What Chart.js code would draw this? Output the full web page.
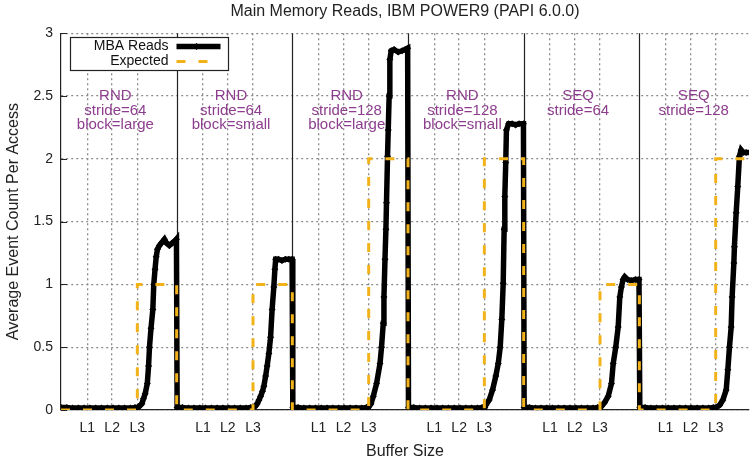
<!DOCTYPE html>
<html>
<head>
<meta charset="utf-8">
<script src="https://cdn.jsdelivr.net/npm/chart.js@4.4.1/dist/chart.umd.min.js"></script>
<style>
  html, body { margin: 0; padding: 0; background: #fff; }
</style>
</head>
<body>
<canvas id="memChart" width="753" height="462"></canvas>
<script>
// one panel per access pattern, x runs 0..1 inside each panel (log buffer size)
const panelLabels = [
  ["RND", "stride=64", "block=large"],
  ["RND", "stride=64", "block=small"],
  ["RND", "stride=128", "block=large"],
  ["RND", "stride=128", "block=small"],
  ["SEQ", "stride=64"],
  ["SEQ", "stride=128"],
];
const cacheLevels = ["L1", "L2", "L3"];
const cachePos = [0.227, 0.442, 0.66];
const expectedLevel = [1, 1, 2, 2, 1, 2];

// small buffers: almost nothing reaches main memory
const flatX = [0.004, 0.05, 0.1, 0.15, 0.2, 0.25, 0.3, 0.35, 0.4, 0.45, 0.5, 0.55, 0.6, 0.64];
const flatY = [0.02, 0.02, 0.015, 0.015, 0.015, 0.015, 0.015, 0.015, 0.015, 0.015, 0.015, 0.015, 0.015, 0.02];

// past L3: measured reads per access
const readsX = [
  [0.662, 0.679, 0.699, 0.713, 0.728, 0.746, 0.757, 0.765, 0.778, 0.794, 0.802, 0.813, 0.823, 0.834, 0.851, 0.868, 0.894, 0.911, 0.937, 0.963, 0.989, 0.998],
  [0.662, 0.680, 0.696, 0.712, 0.726, 0.742, 0.754, 0.769, 0.782, 0.797, 0.812, 0.825, 0.840, 0.849, 0.856, 0.88, 0.91, 0.94, 0.97, 0.998],
  [0.657, 0.68, 0.700, 0.728, 0.758, 0.771, 0.786, 0.792, 0.801, 0.809, 0.814, 0.823, 0.829, 0.837, 0.843, 0.855, 0.880, 0.915, 0.949, 0.975, 0.997],
  [0.664, 0.673, 0.702, 0.731, 0.759, 0.780, 0.797, 0.811, 0.823, 0.831, 0.837, 0.845, 0.851, 0.87, 0.90, 0.93, 0.96, 0.998],
  [0.66, 0.673, 0.70, 0.731, 0.759, 0.774, 0.796, 0.817, 0.831, 0.845, 0.860, 0.874, 0.897, 0.931, 0.966, 0.997],
  [0.665, 0.695, 0.722, 0.751, 0.765, 0.779, 0.794, 0.802, 0.817, 0.822, 0.837, 0.851, 0.865, 0.880, 0.897, 0.923, 0.957, 0.99],
];
const readsY = [
  [0.02, 0.03, 0.05, 0.09, 0.13, 0.21, 0.35, 0.5, 0.65, 0.8, 1.0, 1.12, 1.22, 1.28, 1.31, 1.33, 1.36, 1.33, 1.31, 1.33, 1.35, 1.36],
  [0.02, 0.03, 0.05, 0.08, 0.11, 0.15, 0.19, 0.27, 0.35, 0.45, 0.58, 0.8, 0.98, 1.12, 1.2, 1.2, 1.19, 1.2, 1.2, 1.2],
  [0.02, 0.05, 0.11, 0.21, 0.37, 0.5, 0.69, 0.9, 1.2, 1.44, 1.65, 2.02, 2.23, 2.5, 2.79, 2.86, 2.87, 2.85, 2.86, 2.87, 2.88],
  [0.02, 0.04, 0.08, 0.16, 0.27, 0.37, 0.5, 0.72, 1.01, 1.44, 1.7, 1.97, 2.23, 2.28, 2.28, 2.27, 2.28, 2.28],
  [0.02, 0.03, 0.06, 0.11, 0.21, 0.37, 0.5, 0.66, 0.9, 0.98, 1.04, 1.06, 1.04, 1.03, 1.04, 1.04],
  [0.02, 0.04, 0.08, 0.16, 0.32, 0.5, 0.66, 0.9, 1.17, 1.3, 1.57, 1.78, 2.02, 2.07, 2.05, 2.05, 2.05, 2.05],
];

const FONT = "'Liberation Sans', Arial, sans-serif";
const ORANGE = "#f2b21a";
const PURPLE = "#8d3d8d";
const GRID = "#8a8a8a";
const xMax = 5.948; // the original figure is cut off inside the last panel

const readsData = [];
panelLabels.forEach((_, p) => {
  flatX.forEach((x, k) => readsData.push({ x: p + x, y: flatY[k] }));
  readsX[p].forEach((x, k) => readsData.push({ x: p + x, y: readsY[p][k] }));
});

const expectedData = [];
expectedLevel.forEach((lvl, p) => {
  const jump = p + cachePos[2];
  expectedData.push({ x: p, y: 0 }, { x: jump, y: 0 }, { x: jump, y: lvl }, { x: p + 1, y: lvl });
});

Chart.defaults.font.family = FONT;
Chart.defaults.color = "#222";

// solid lines between the panels
const panelLines = {
  id: "panelLines",
  beforeDatasetsDraw(chart) {
    const { ctx, chartArea, scales } = chart;
    ctx.save();
    ctx.strokeStyle = "#222";
    ctx.lineWidth = 1.2;
    for (let p = 1; p < panelLabels.length; p++) {
      const px = Math.round(scales.x.getPixelForValue(p)) + 0.5;
      ctx.beginPath();
      ctx.moveTo(px, chartArea.top);
      ctx.lineTo(px, chartArea.bottom);
      ctx.stroke();
    }
    // short inward tick marks on the left axis, gnuplot style
    ctx.lineWidth = 1;
    scales.y.ticks.forEach((t) => {
      const py = Math.round(scales.y.getPixelForValue(t.value)) + 0.5;
      ctx.beginPath();
      ctx.moveTo(chartArea.left, py);
      ctx.lineTo(chartArea.left + 6, py);
      ctx.stroke();
    });
    ctx.restore();
  },
};

// purple captions in every panel
const panelCaptions = {
  id: "panelCaptions",
  afterDatasetsDraw(chart) {
    const { ctx, scales } = chart;
    ctx.save();
    ctx.font = "15px " + FONT;
    ctx.fillStyle = PURPLE;
    ctx.textAlign = "center";
    ctx.textBaseline = "middle";
    const top = scales.y.getPixelForValue(2.5);
    panelLabels.forEach((lines, p) => {
      const cx = scales.x.getPixelForValue(p + 0.47);
      lines.forEach((t, k) => ctx.fillText(t, cx, top + k * 14.5));
    });
    ctx.restore();
  },
};

// gnuplot-like key: text on the left, sample on the right, in a box
const boxKey = {
  id: "boxKey",
  afterDatasetsDraw(chart) {
    const { ctx, chartArea } = chart;
    const x0 = Math.round(chartArea.left + 9) + 0.5;
    const y0 = Math.round(chartArea.top + 4) + 0.5;
    ctx.save();
    ctx.fillStyle = "#fff";
    ctx.fillRect(x0, y0, 158, 33);
    ctx.strokeStyle = "#222";
    ctx.lineWidth = 1.2;
    ctx.strokeRect(x0, y0, 158, 33);
    ctx.font = "14px " + FONT;
    ctx.textAlign = "right";
    ctx.textBaseline = "middle";
    chart.data.datasets.forEach((ds, i) => {
      const ry = y0 + 9 + i * 15;
      ctx.fillStyle = "#111";
      ctx.fillText(ds.label, x0 + 98, ry);
      ctx.beginPath();
      ctx.strokeStyle = ds.borderColor;
      ctx.lineWidth = ds.borderWidth;
      ctx.setLineDash(ds.borderDash || []);
      ctx.moveTo(x0 + 106, ry);
      ctx.lineTo(x0 + 150, ry);
      ctx.stroke();
      ctx.setLineDash([]);
      if (ds.pointRadius) {
        const mx = x0 + 126;
        const r = ds.pointRadius;
        ctx.fillStyle = ds.pointBackgroundColor;
        ctx.beginPath();
        ctx.moveTo(mx, ry - r);
        ctx.lineTo(mx + r, ry);
        ctx.lineTo(mx, ry + r);
        ctx.lineTo(mx - r, ry);
        ctx.closePath();
        ctx.fill();
      }
    });
    ctx.restore();
  },
};

new Chart(document.getElementById("memChart"), {
  type: "line",
  data: {
    datasets: [
      {
        label: "MBA Reads",
        data: readsData,
        borderColor: "#000",
        borderWidth: 5.5,
        pointStyle: "rectRot",
        pointRadius: 3.5,
        pointBackgroundColor: "#000",
        pointBorderWidth: 0,
        tension: 0,
        order: 1,
      },
      {
        label: "Expected",
        data: expectedData,
        borderColor: ORANGE,
        borderWidth: 3,
        borderDash: [9, 13],
        pointRadius: 0,
        tension: 0,
        order: 0,
      },
    ],
  },
  options: {
    responsive: false,
    animation: false,
    layout: { padding: { left: 4, right: 0, top: 0, bottom: 1 } },
    plugins: {
      legend: { display: false },
      tooltip: { enabled: false },
      title: {
        display: true,
        fullSize: false,
        text: "Main Memory Reads, IBM POWER9 (PAPI 6.0.0)",
        font: { size: 16, weight: "normal" },
        color: "#222",
        padding: { top: 2, bottom: 12 },
      },
    },
    scales: {
      x: {
        type: "linear",
        min: 0,
        max: xMax,
        afterBuildTicks: (axis) => {
          const ticks = [];
          panelLabels.forEach((_, p) => cachePos.forEach((c) => ticks.push({ value: p + c })));
          axis.ticks = ticks;
        },
        afterFit: (s) => { s.height = 51; },
        ticks: {
          autoSkip: false,
          maxRotation: 0,
          padding: 10,
          font: { size: 14 },
          callback: (v, i) => cacheLevels[i % cacheLevels.length],
        },
        grid: { color: GRID, lineWidth: 1.3, drawTicks: false },
        border: { color: "#222", width: 1.2, dash: [2, 3] },
        title: { display: true, text: "Buffer Size", font: { size: 16 }, padding: { top: 0, bottom: 0 } },
      },
      y: {
        min: 0,
        max: 3,
        afterFit: (s) => { s.width = 57; },
        ticks: { stepSize: 0.5, padding: 8, font: { size: 14 }, callback: (v) => String(v) },
        grid: { color: GRID, lineWidth: 1.3, drawTicks: false },
        border: { color: "#222", width: 1.2, dash: [2, 3] },
        title: {
          display: true,
          text: "Average Event Count Per Access",
          font: { size: 16 },
          padding: { top: 0, bottom: 0 },
        },
      },
    },
  },
  plugins: [panelLines, panelCaptions, boxKey],
});
</script>
</body>
</html>
